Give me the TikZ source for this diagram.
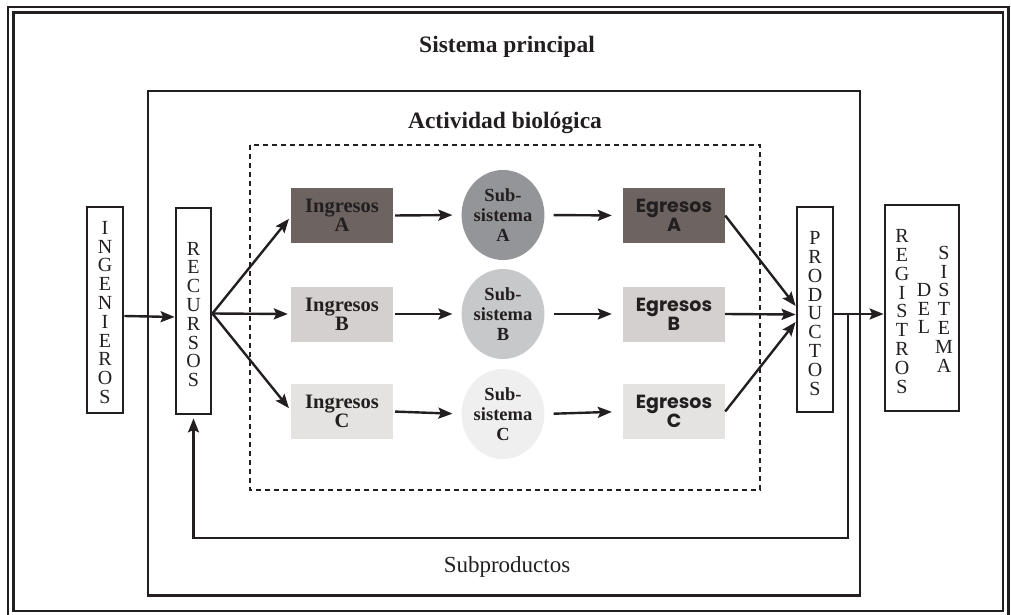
\documentclass[tikz,border=0pt]{standalone}
\usepackage{fontspec}
\setmainfont{Liberation Serif}
\newfontfamily\egfont{Poppins}
\usetikzlibrary{arrows.meta,shapes.geometric}
\definecolor{ink}{HTML}{231F20}
\definecolor{fillA}{HTML}{6D6462}
\definecolor{fillB}{HTML}{D3D0CF}
\definecolor{fillC}{HTML}{E4E3E2}
\definecolor{subA}{HTML}{939598}
\definecolor{subB}{HTML}{C7C8CA}
\definecolor{subC}{HTML}{EFEFF0}
\begin{document}
\begin{tikzpicture}[x=1pt,y=-1pt,
  frameline/.style={draw=ink,line width=2.6pt},
  vbox/.style={draw=ink,line width=2.8pt,fill=white,inner sep=0pt},
  vtext/.style={text=ink,align=center,inner sep=0pt,font=\fontsize{20}{18.8}\selectfont},
  ingbox/.style={minimum width=102pt,minimum height=55pt,inner sep=0pt,text=ink,align=center,
    font=\fontsize{20.5}{19}\selectfont\bfseries},
  egbox/.style={minimum width=102pt,minimum height=55pt,inner sep=0pt,text=ink,align=center,
    font=\egfont\fontsize{19}{19}\selectfont\bfseries},
  subbox/.style={ellipse,minimum width=80pt,minimum height=90pt,inner sep=0pt,text=ink,align=center,
    font=\fontsize{18.5}{20}\selectfont\bfseries},
  title/.style={text=ink,inner sep=0pt,font=\fontsize{23.5}{24}\selectfont\bfseries},
  arr/.style={draw=ink,line width=2.4pt,-{Stealth[length=14pt,width=11pt,inset=2.5pt]}},
  con/.style={draw=ink,line width=2.4pt}]
\useasboundingbox (0,0) rectangle (1011,615);
% outer double frame
\draw[frameline] (8,7) rectangle (1008.5,617);
\draw[frameline] (13.5,12.5) rectangle (1003,611);
% main system frame
\draw[draw=ink,line width=2.8pt] (148,91) rectangle (860,595.5);
% dashed activity frame
\draw[draw=ink,line width=2.5pt,dash pattern=on 5pt off 4pt] (250,145) rectangle (760,490);
% titles
\node[title] (tsp) at (507,47) {Sistema principal};
\node[title] (tab) at (505,123) {Actividad biológica};
\node[text=ink,inner sep=0pt,font=\fontsize{23}{24}\selectfont] (tsub) at (507,567) {Subproductos};
% vertical boxes
\node[vbox,minimum width=36pt,minimum height=206pt] (ing) at (105,310) {};
\node[vtext] (ingT) at (105,312.5) {I\\N\\G\\E\\N\\I\\E\\R\\O\\S};
\node[vbox,minimum width=35pt,minimum height=206pt] (rec) at (193.5,311) {};
\node[vtext] (recT) at (193.5,314.5) {R\\E\\C\\U\\R\\S\\O\\S};
\node[vbox,minimum width=36pt,minimum height=205pt] (pro) at (815,309.5) {};
\node[vtext] (proT) at (815,313.5) {P\\R\\O\\D\\U\\C\\T\\O\\S};
\node[vbox,minimum width=74pt,minimum height=206pt] (reg) at (922,308) {};
\node[vtext] (regT1) at (902,311.5) {R\\E\\G\\I\\S\\T\\R\\O\\S};
\node[vtext] (regT2) at (924,308.5) {D\\E\\L};
\node[vtext] (regT3) at (944,309) {S\\I\\S\\T\\E\\M\\A};
% ingresos
\node[ingbox,fill=fillA] (ingA) at (342,215.5) {Ingresos\\A};
\node[ingbox,fill=fillB] (ingB) at (342,314) {Ingresos\\B};
\node[ingbox,fill=fillC] (ingC) at (342,411.5) {Ingresos\\C};
% subsistemas
\node[subbox,fill=subA] (subA) at (503,215) {Sub-\\sistema\\A};
\node[subbox,fill=subB] (subB) at (503,314) {Sub-\\sistema\\B};
\node[subbox,fill=subC] (subC) at (503,414) {Sub-\\sistema\\C};
% egresos
\node[egbox,fill=fillA] (egA) at (674,215.5) {Egresos\\A};
\node[egbox,fill=fillB] (egB) at (674,314) {Egresos\\B};
\node[egbox,fill=fillC] (egC) at (674,411.5) {Egresos\\C};
% connectors
\draw[arr] ([yshift=-6pt]ing.east) -- ([yshift=-6pt]rec.west);
\draw[arr,shorten >=3pt] ([yshift=-2.5pt]rec.east) -- ([yshift=-1pt]ingA.west);
\draw[arr,shorten >=3pt] ([yshift=-2.5pt]rec.east) -- (ingB.west);
\draw[arr,shorten >=3pt] ([yshift=-2.5pt]rec.east) -- ([yshift=1pt]ingC.west);
\foreach \r in {A,B,C}{
  \draw[arr,shorten <=2pt,shorten >=9pt] (ing\r.east) -- (sub\r.west);
  \draw[arr,shorten <=9pt,shorten >=11pt] (sub\r.east) -- (eg\r.west);
}
\draw[arr] (egA.east) -- ([yshift=3.5pt]pro.west);
\draw[arr] (egB.east) -- ([yshift=-5pt]pro.west);
\draw[arr] (egC.east) -- ([yshift=-12.5pt]pro.west);
\draw[arr] ([yshift=-4.5pt]pro.east) -- ([yshift=-6pt]reg.west);
\coordinate (fb0) at (848,314);
\coordinate (fb1) at (848,538);
\coordinate (fb2) at (193.5,538);
\draw[arr,shorten >=3pt] (fb0) -- (fb1) -- (fb2) -- (rec.south);
\end{tikzpicture}
\end{document}
